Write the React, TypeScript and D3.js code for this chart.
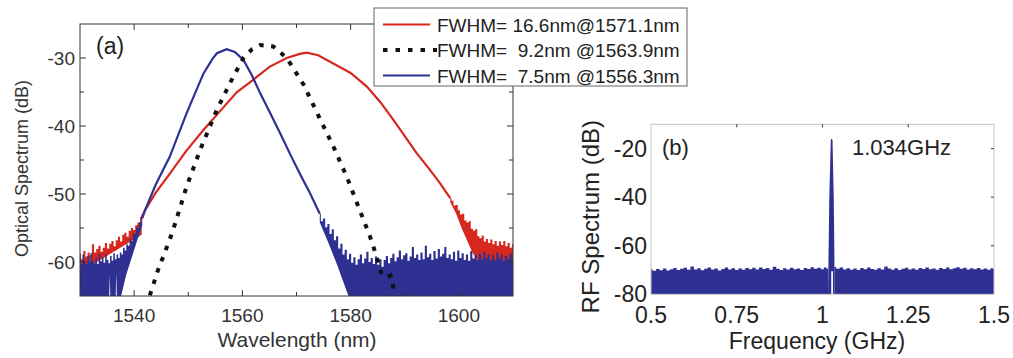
import React from 'react';
import * as d3 from 'd3';

type P = [number, number];

// ---------- Panel (a): optical spectrum ----------
const wlMajorTicks = [1540, 1560, 1580, 1600];
const wlMinorTicks = [1550, 1570, 1590];
const odbMajorTicks = [-30, -40, -50, -60];
const odbMinorTicks = [-35, -45, -55];

const legendLabels = [
  'FWHM= 16.6nm@1571.1nm',
  'FWHM=  9.2nm @1563.9nm',
  'FWHM=  7.5nm @1556.3nm',
];

const redCurve: P[] = [
  [1541.4, -53.4], [1542, -52.4], [1544, -49.8], [1546.6, -47.0], [1549.6, -43.7],
  [1552.8, -40.6], [1556, -37.7], [1559, -35.0], [1562, -33.2], [1565, -31.3],
  [1568.2, -30.0], [1570.6, -29.4], [1571.9, -29.2], [1574, -29.6], [1576.8, -30.8],
  [1580, -32.2], [1583, -34.2], [1585.5, -36.5], [1587.9, -39.1], [1590, -41.5],
  [1592.2, -44.0], [1594.4, -46.2], [1596.5, -48.4], [1598.4, -50.6],
];

const redNoiseLeftUpper: P[] = [
  [1530, -58.8], [1530.4, -59.6], [1530.8, -58.4], [1531.2, -59.2], [1531.6, -58.6],
  [1532, -59.0], [1532.4, -57.4], [1532.8, -58.6], [1533.2, -58.1], [1533.6, -57.6],
  [1534, -58.5], [1534.4, -57.9], [1534.8, -57.2], [1535.2, -58.0], [1535.6, -57.3],
  [1536, -56.9], [1536.4, -57.7], [1536.8, -56.8], [1537.2, -56.3], [1537.6, -57.0],
  [1538, -56.0], [1538.4, -55.7], [1538.8, -56.3], [1539.2, -55.4], [1539.6, -55.0],
  [1540, -55.3], [1540.4, -54.6], [1540.8, -54.2], [1541.4, -53.4],
];
const redNoiseLeftLower: P[] = [[1530, -61.5], [1541.4, -56]];

const redNoiseRightUpper: P[] = [
  [1598.4, -50.6], [1598.8, -51.0], [1599.2, -51.7], [1599.6, -51.6], [1600, -52.4],
  [1600.4, -53.0], [1600.8, -52.9], [1601.2, -53.9], [1601.6, -54.2], [1602, -54.0],
  [1602.4, -55.1], [1602.8, -55.4], [1603.2, -55.2], [1603.6, -56.2], [1604, -56.5],
  [1604.4, -56.1], [1604.8, -57.0], [1605.2, -56.6], [1605.6, -57.2], [1606, -56.7],
  [1606.4, -57.4], [1606.8, -56.9], [1607.2, -57.6], [1607.6, -57.0], [1608, -57.5],
  [1608.4, -56.9], [1608.8, -57.7], [1609.2, -57.2], [1609.6, -57.9], [1610, -57.4],
];
const redNoiseRightLower: P[] = [
  [1598.4, -51.2], [1599.5, -52.9], [1600.5, -55.0], [1601.5, -56.8], [1602.5, -58.6],
  [1603.5, -59.8], [1610, -60],
];

const blueCurve: P[] = [
  [1541.5, -53.6], [1542, -52.4], [1544, -48.6], [1546.6, -44.5], [1549.7, -38.1],
  [1552.8, -32.3], [1554.5, -30.1], [1555.3, -29.3], [1557.1, -28.7], [1558.6, -29.1],
  [1560.2, -30.3], [1561.8, -32.6], [1563.3, -35.2], [1565.2, -38.2], [1567, -41.1],
  [1568.8, -44.1], [1570.6, -47.0], [1572.5, -49.9], [1574.3, -52.9],
];

const blueNoiseLeftUpper: P[] = [
  [1530, -59.6], [1530.3, -60.4], [1530.6, -58.9], [1530.9, -59.8], [1531.2, -60.3],
  [1531.5, -59.1], [1531.8, -60.0], [1532.1, -58.7], [1532.4, -59.8], [1532.7, -60.2],
  [1533, -59.4], [1533.3, -60.3], [1533.6, -58.8], [1533.9, -59.9], [1534.2, -59.3],
  [1534.5, -60.1], [1534.8, -58.9], [1535.1, -59.7], [1535.4, -60.2], [1535.7, -59.1],
  [1536, -59.8], [1536.3, -58.7], [1536.6, -59.6], [1536.9, -58.9], [1537.2, -59.4],
  [1537.5, -58.6], [1537.8, -58.9], [1538.1, -57.9], [1538.4, -58.3], [1538.7, -57.4],
  [1539, -57.6], [1539.3, -56.6], [1539.6, -56.9], [1539.9, -55.8], [1540.2, -55.9],
  [1540.5, -55.0], [1540.8, -54.8], [1541.1, -54.1], [1541.5, -53.4],
];
const blueNoiseLeftLower: P[] = [
  [1530, -65], [1535.4, -65], [1535.5, -61.8], [1535.6, -65], [1536.6, -65],
  [1536.7, -61.5], [1536.8, -65], [1537.6, -65], [1538.5, -62], [1539.5, -59.5],
  [1540.5, -57], [1541.5, -54.6],
];

const blueNoiseRightUpper: P[] = [
  [1574.3, -52.9], [1574.7, -54.0], [1575.1, -53.6], [1575.5, -54.9], [1575.9, -54.4],
  [1576.3, -55.9], [1576.7, -55.2], [1577.1, -56.8], [1577.5, -56.2], [1577.9, -58.0],
  [1578.3, -57.3], [1578.7, -58.9], [1579.1, -58.2], [1579.5, -59.6], [1579.9, -58.8],
  [1580.3, -60.1], [1580.7, -59.3], [1581.1, -60.4], [1581.5, -59.6], [1581.9, -58.9],
  [1582.3, -60.2], [1582.7, -59.5], [1583.1, -58.5], [1583.5, -60.0], [1583.9, -59.4],
  [1584.3, -60.3], [1584.7, -59.2], [1585.1, -60.4], [1585.5, -59.6], [1585.9, -60.7],
  [1586.3, -59.7], [1586.7, -59.1], [1587.1, -60.2], [1587.5, -59.4], [1587.9, -58.8],
  [1588.3, -59.9], [1588.7, -59.3], [1589.1, -58.3], [1589.5, -59.6], [1589.9, -59.0],
  [1590.3, -58.7], [1590.7, -59.8], [1591.1, -59.2], [1591.5, -57.8], [1591.9, -59.4],
  [1592.3, -58.9], [1592.7, -59.7], [1593.1, -58.6], [1593.5, -59.6], [1593.9, -57.6],
  [1594.3, -59.3], [1594.7, -58.8], [1595.1, -59.7], [1595.5, -58.4], [1595.9, -59.5],
  [1596.3, -58.1], [1596.7, -59.2], [1597.1, -58.8], [1597.5, -57.8], [1597.9, -59.4],
  [1598.3, -58.9], [1598.7, -59.6], [1599.1, -58.5], [1599.5, -59.8], [1599.9, -58.3],
  [1600.3, -59.4], [1600.7, -58.7], [1601.1, -59.7], [1601.5, -58.9], [1601.9, -59.8],
  [1602.3, -58.4], [1602.7, -59.5], [1603.1, -59.0], [1603.5, -59.7], [1603.9, -58.8],
  [1604.3, -59.6], [1604.7, -58.5], [1605.1, -59.4], [1605.5, -58.9], [1605.9, -59.8],
  [1606.3, -59.0], [1606.7, -59.7], [1607.1, -58.6], [1607.5, -59.5], [1607.9, -58.9],
  [1608.3, -59.8], [1608.7, -59.1], [1609.1, -59.6], [1609.5, -58.8], [1610, -59.5],
];
const blueNoiseRightLower: P[] = [
  [1574.3, -54.2], [1576, -57.4], [1577.5, -60.4], [1578.5, -62.6], [1579.6, -65], [1610, -65],
];

const dottedCurve: P[] = [
  [1542.9, -64.9], [1544.7, -60.5], [1545.4, -59.2], [1547.2, -55.3], [1549.7, -48.9],
  [1552.2, -43.5], [1555.3, -37.6], [1557.7, -33.7], [1560.2, -30.0], [1561.8, -28.7],
  [1563.3, -28.1], [1565.7, -28.3], [1568.2, -30.0], [1571.3, -33.9], [1574, -38.4],
  [1576.8, -43.0], [1579.3, -47.5], [1581.7, -52.4], [1583.6, -56.3], [1584.8, -59.2],
  [1585.6, -61.5], [1586.6, -62.3], [1587.4, -62.0], [1588.2, -64.9],
];

// ---------- Panel (b): RF spectrum ----------
const ghzTicks = [0.5, 0.75, 1, 1.25, 1.5];
const ghzTickLabels = ['0.5', '0.75', '1', '1.25', '1.5'];
const rfdbTicks = [-20, -40, -60, -80];

const rfNoiseLeftUpper: P[] = [
  [0.5, -69.8], [0.51, -70.3], [0.52, -69.6], [0.53, -70.1], [0.54, -69.4], [0.55, -70.2],
  [0.56, -69.7], [0.57, -69.2], [0.58, -70.0], [0.59, -69.5], [0.6, -69.1], [0.61, -69.9],
  [0.62, -68.6], [0.63, -69.8], [0.64, -69.3], [0.65, -70.1], [0.66, -69.5], [0.67, -69.0],
  [0.68, -69.8], [0.69, -69.4], [0.7, -70.2], [0.71, -69.6], [0.72, -69.0], [0.73, -69.8],
  [0.74, -69.3], [0.75, -70.0], [0.76, -69.4], [0.77, -69.9], [0.78, -69.2], [0.79, -69.7],
  [0.8, -69.1], [0.81, -69.8], [0.82, -69.0], [0.83, -69.6], [0.84, -69.2], [0.85, -69.9],
  [0.86, -68.7], [0.87, -69.5], [0.88, -70.0], [0.89, -69.3], [0.9, -69.8], [0.91, -69.1],
  [0.92, -69.7], [0.93, -69.4], [0.94, -70.0], [0.95, -69.2], [0.96, -69.6], [0.97, -68.9],
  [0.98, -69.5], [0.99, -69.1], [1.0, -69.7], [1.008, -69.0], [1.016, -69.5],
];
const rfNoiseRightUpper: P[] = [
  [1.035, -68.8], [1.045, -69.5], [1.055, -69.0], [1.065, -69.8], [1.075, -69.3], [1.085, -69.9],
  [1.095, -69.4], [1.105, -70.0], [1.115, -69.2], [1.125, -69.7], [1.135, -69.0], [1.145, -69.6],
  [1.155, -69.9], [1.165, -69.3], [1.175, -69.8], [1.185, -68.6], [1.195, -69.4], [1.205, -69.9],
  [1.215, -69.3], [1.225, -70.0], [1.235, -69.5], [1.245, -69.1], [1.255, -69.8], [1.265, -69.4],
  [1.275, -69.9], [1.285, -69.2], [1.295, -69.6], [1.305, -69.0], [1.315, -69.7], [1.325, -69.4],
  [1.335, -69.9], [1.345, -69.2], [1.355, -69.6], [1.365, -69.0], [1.375, -69.7], [1.385, -69.3],
  [1.395, -68.9], [1.405, -69.5], [1.415, -69.1], [1.425, -69.8], [1.435, -69.3], [1.445, -69.7],
  [1.455, -69.2], [1.465, -69.8], [1.475, -69.4], [1.485, -69.9], [1.495, -69.3], [1.5, -69.6],
];
const rfPeakOutline: P[] = [
  [1.016, -80], [1.017, -70], [1.018, -60], [1.0198, -40], [1.0242, -16.5], [1.0268, -15.8],
  [1.0292, -16.5], [1.0327, -40], [1.0344, -60], [1.035, -70], [1.035, -80], [1.0305, -80],
  [1.0305, -70.5], [1.0255, -70.5], [1.0255, -80],
];

const BLUE = '#2e3192';
const RED = '#d6281f';
const FONT = '"Liberation Sans", Arial, sans-serif';

const A = { x0: 80, x1: 513, y0: 24, y1: 296 };
const B = { x0: 651, x1: 994, y0: 124.3, y1: 294.3 };

export default function App() {
  const xa = d3.scaleLinear().domain([1530, 1610]).range([A.x0, A.x1]);
  const ya = d3.scaleLinear().domain([-65, -25]).range([A.y1, A.y0]);
  const xb = d3.scaleLinear().domain([0.5, 1.5]).range([B.x0, B.x1]);
  const yb = d3.scaleLinear().domain([-80, -10]).range([B.y1, B.y0]);

  const lineA = d3.line<P>().x((d) => xa(d[0])).y((d) => ya(d[1]));
  const stepA = d3.line<P>().x((d) => xa(d[0])).y((d) => ya(d[1])).curve(d3.curveStep);
  const lineB = d3.line<P>().x((d) => xb(d[0])).y((d) => yb(d[1]));
  const stepB = d3.line<P>().x((d) => xb(d[0])).y((d) => yb(d[1])).curve(d3.curveStep);

  const bandA = (upper: P[], lower: P[]) => {
    const top = stepA(upper) || '';
    const bottom = (lineA([...lower].reverse()) || '').replace(/^M/, 'L');
    return top + bottom + 'Z';
  };
  const bandB = (upper: P[], bottom: number) => {
    const top = stepB(upper) || '';
    const base = (lineB([[upper[upper.length - 1][0], bottom], [upper[0][0], bottom]]) || '').replace(/^M/, 'L');
    return top + base + 'Z';
  };

  const legendX = 374, legendY = 8;

  return (
    <svg width={1013} height={358} style={{ position: 'absolute', left: 0, top: 0, background: '#fff' }} fontFamily={FONT}>
      <defs>
        <clipPath id="clipA"><rect x={A.x0} y={A.y0} width={A.x1 - A.x0} height={A.y1 - A.y0} /></clipPath>
        <clipPath id="clipB"><rect x={B.x0} y={B.y0 - 2} width={B.x1 - B.x0} height={B.y1 - B.y0 + 2} /></clipPath>
      </defs>

      {/* ---------------- Panel (a) ---------------- */}
      <g clipPath="url(#clipA)">
        <path d={bandA(redNoiseLeftUpper, redNoiseLeftLower)} fill={RED} />
        <path d={bandA(redNoiseRightUpper, redNoiseRightLower)} fill={RED} />
        <path d={lineA(redCurve) || ''} fill="none" stroke={RED} strokeWidth={2.2} />
        <path d={bandA(blueNoiseLeftUpper, blueNoiseLeftLower)} fill={BLUE} />
        <path d={bandA(blueNoiseRightUpper, blueNoiseRightLower)} fill={BLUE} />
        <path d={lineA(blueCurve) || ''} fill="none" stroke={BLUE} strokeWidth={2.2} />
        <path d={lineA(dottedCurve) || ''} fill="none" stroke="#111" strokeWidth={4} strokeDasharray="4.5,7.5" />
      </g>
      <rect x={A.x0} y={A.y0} width={A.x1 - A.x0} height={A.y1 - A.y0} fill="none" stroke="#333" strokeWidth={1} />
      {wlMajorTicks.concat(wlMinorTicks).map((t) => {
        const len = wlMajorTicks.includes(t) ? 6 : 4;
        return (
          <g key={'wt' + t} stroke="#333" strokeWidth={1}>
            <line x1={xa(t)} x2={xa(t)} y1={A.y1} y2={A.y1 - len} />
            <line x1={xa(t)} x2={xa(t)} y1={A.y0} y2={A.y0 + len} />
          </g>
        );
      })}
      {odbMajorTicks.concat(odbMinorTicks).map((t) => {
        const len = odbMajorTicks.includes(t) ? 6 : 4;
        return (
          <g key={'yt' + t} stroke="#333" strokeWidth={1}>
            <line x1={A.x0} x2={A.x0 + len} y1={ya(t)} y2={ya(t)} />
            <line x1={A.x1} x2={A.x1 - len} y1={ya(t)} y2={ya(t)} />
          </g>
        );
      })}
      {wlMajorTicks.map((t) => (
        <text key={'wl' + t} x={xa(t)} y={A.y1 + 26} textAnchor="middle" fontSize={19} fill="#333">{t}</text>
      ))}
      {odbMajorTicks.map((t) => (
        <text key={'ol' + t} x={A.x0 - 5} y={ya(t) + 7} textAnchor="end" fontSize={19} fill="#333">{t}</text>
      ))}
      <text x={297} y={347} textAnchor="middle" fontSize={21} fill="#333">Wavelength (nm)</text>
      <text transform="translate(28,168.5) rotate(-90)" textAnchor="middle" fontSize={18} fill="#333">Optical Spectrum (dB)</text>
      <text x={96} y={54} fontSize={23} fill="#222">(a)</text>

      {/* legend */}
      <rect x={legendX} y={legendY} width={313} height={78} fill="#fff" stroke="#666" strokeWidth={1} />
      {legendLabels.map((label, i) => {
        const cy = legendY + 16.5 + i * 25.5;
        return (
          <g key={'lg' + i}>
            {i === 1 ? (
              <line x1={383} x2={437} y1={cy} y2={cy} stroke="#111" strokeWidth={4} strokeDasharray="4.5,8" />
            ) : (
              <line x1={383} x2={430} y1={cy} y2={cy} stroke={i === 0 ? RED : BLUE} strokeWidth={2} />
            )}
            <text x={437} y={cy + 7} fontSize={19} fill="#222" style={{ whiteSpace: 'pre' }}>{label}</text>
          </g>
        );
      })}

      {/* ---------------- Panel (b) ---------------- */}
      <g clipPath="url(#clipB)">
        <path d={bandB(rfNoiseLeftUpper, -80)} fill={BLUE} />
        <path d={bandB(rfNoiseRightUpper, -80)} fill={BLUE} />
        <path d={(lineB(rfPeakOutline) || '') + 'Z'} fill={BLUE} />
      </g>
      <rect x={B.x0} y={B.y0} width={B.x1 - B.x0} height={B.y1 - B.y0} fill="none" stroke="#c4c4c4" strokeWidth={1} />
      {ghzTicks.slice(1, -1).map((t) => (
        <line key={'gt' + t} x1={xb(t)} x2={xb(t)} y1={B.y0} y2={B.y0 + 3} stroke="#555" strokeWidth={1.2} />
      ))}
      {rfdbTicks.slice(0, -1).map((t) => (
        <line key={'rt' + t} x1={B.x1} x2={B.x1 - 3} y1={yb(t)} y2={yb(t)} stroke="#555" strokeWidth={1.2} />
      ))}
      {ghzTicks.map((t, i) => (
        <text key={'gl' + t} x={xb(t)} y={B.y1 + 28.5} textAnchor="middle" fontSize={23} fill="#222">{ghzTickLabels[i]}</text>
      ))}
      {rfdbTicks.map((t) => (
        <text key={'rl' + t} x={B.x0 - 4} y={yb(t) + 8} textAnchor="end" fontSize={23} fill="#222">{t}</text>
      ))}
      <text x={817} y={349} textAnchor="middle" fontSize={23} fill="#222">Frequency (GHz)</text>
      <text transform="translate(598.5,216.7) rotate(-90)" textAnchor="middle" fontSize={24} fill="#222">RF Spectrum (dB)</text>
      <text x={662} y={155} fontSize={22} fill="#222">(b)</text>
      <text x={852} y={155} fontSize={22} fill="#222">1.034GHz</text>
    </svg>
  );
}
